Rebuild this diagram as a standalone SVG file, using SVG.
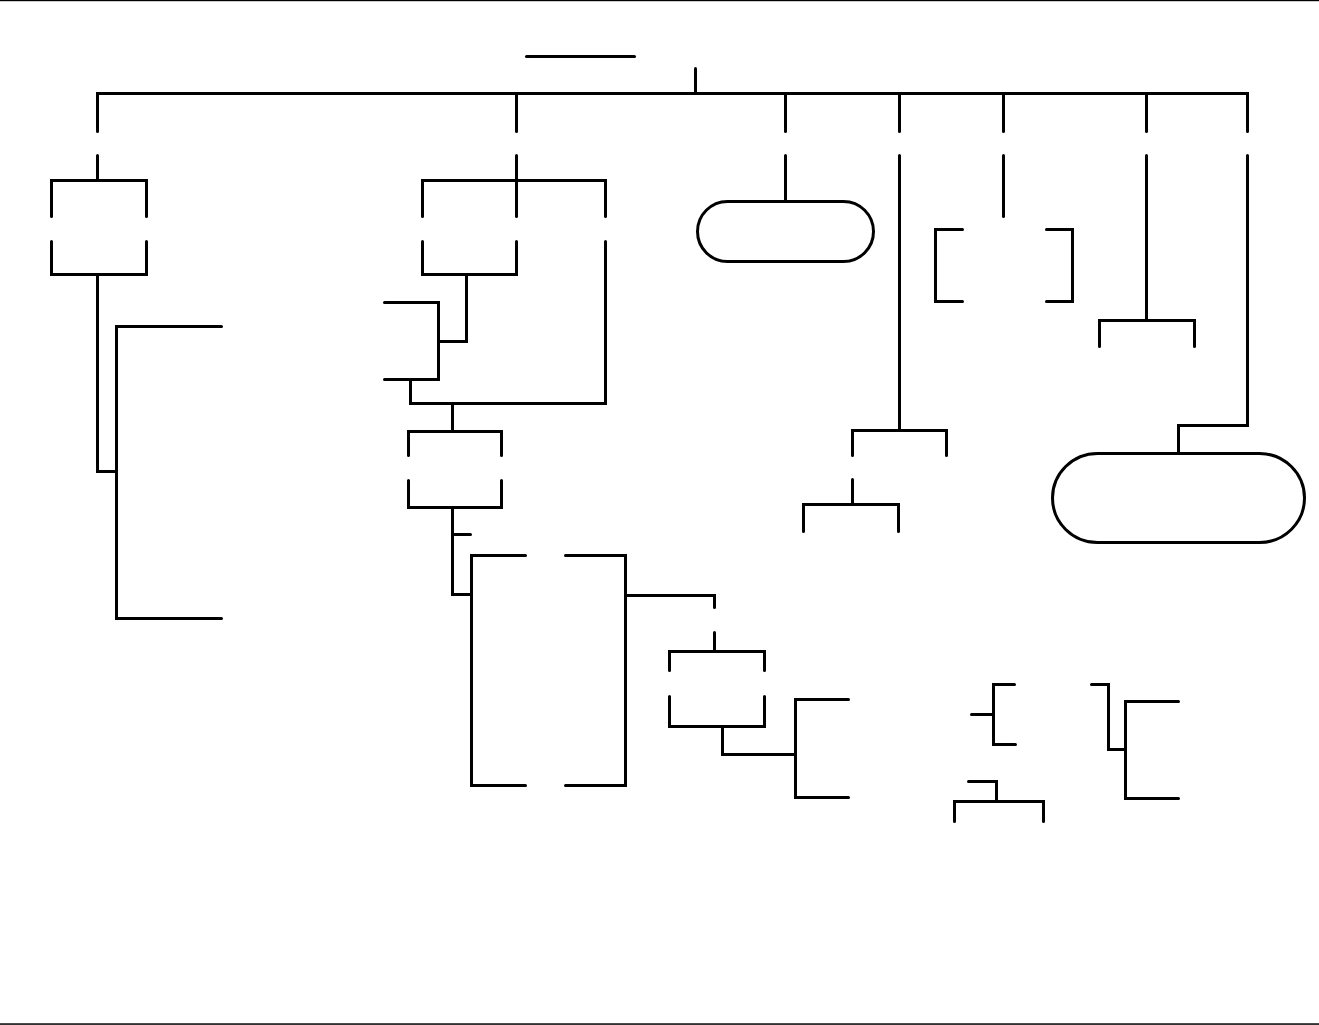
<svg xmlns="http://www.w3.org/2000/svg" width="1319" height="1025" viewBox="0 0 1319 1025">
<style>
.l{fill:none;stroke:#000;stroke-width:3;stroke-linecap:round;stroke-linejoin:miter}
.s{fill:none;stroke:#000;stroke-width:3}
</style>
<rect x="0" y="0" width="1319" height="1025" fill="#fff"/>
<rect x="0" y="0" width="1319" height="1.2" fill="#000"/>
<rect x="0" y="1023.3" width="1319" height="1.5" fill="#000"/>
<g id="title"><path class="l" d="M526.5,56.5 H634.5"/></g>
<g id="node-a" class="l"><path d="M51.5,216.5 V180.5 H146.5 V216.5"/><path d="M51.5,241.5 V274.5 H146.5 V241.5"/></g>
<g id="node-b" class="l"><path d="M422.5,216.5 V180.5 H605.5 V216.5"/><path d="M422.5,241.5 V274.5 H516.5 V241.5"/></g>
<g id="node-c" class="l"><path d="M408.5,455.5 V431.5 H501.5 V455.5"/><path d="M408.5,480.5 V507.5 H501.5 V480.5"/></g>
<g id="node-d" class="l"><path d="M669.5,670.5 V651.5 H764.5 V670.5"/><path d="M669.5,696.5 V726.5 H764.5 V696.5"/></g>
<g id="node-e" class="l"><path d="M525.5,555.5 H471.5 V785.5 H525.5"/><path d="M565.5,555.5 H625.5 V785.5 H565.5"/></g>
<g id="node-f" class="l"><path d="M962.5,229.5 H935.5 V301.5 H962.5"/><path d="M1046.5,229.5 H1072.5 V301.5 H1046.5"/></g>
<g id="node-g"><rect class="s" x="697.5" y="201.5" width="176" height="60" rx="30" ry="30"/></g>
<g id="node-h"><rect class="s" x="1052.5" y="453.5" width="252" height="89" rx="45" ry="44.5"/></g>
<g id="connectors" class="l">
<path d="M695.5,68.5 V93.5"/>
<path d="M97.5,131.5 V93.5 H1247.5 V131.5"/>
<path d="M516.5,93.5 V131.5"/><path d="M785.5,93.5 V131.5"/><path d="M899.5,93.5 V131.5"/><path d="M1003.5,93.5 V131.5"/><path d="M1146.5,93.5 V131.5"/>
<path d="M97.5,155.5 V180.5"/>
<path d="M516.5,155.5 V216.5"/>
<path d="M785.5,155.5 V201.5"/>
<path d="M899.5,155.5 V430.5"/>
<path d="M1003.5,155.5 V216.5"/>
<path d="M1146.5,155.5 V320.5"/>
<path d="M1247.5,155.5 V425.5 H1178.5 V453.5"/>
<path d="M97.5,274.5 V471.5 H116.5"/>
<path d="M221.5,326.5 H116.5 V618.5 H221.5"/>
<path d="M466.5,274.5 V341.5 H438.5"/>
<path d="M384.5,302.5 H438.5 V379.5 H384.5"/>
<path d="M605.5,241.5 V403.5 H410.5 V379.5"/>
<path d="M452.5,403.5 V431.5"/>
<path d="M452.5,507.5 V594.5 H471.5"/>
<path d="M452.5,534.5 H470.5"/>
<path d="M625.5,595.5 H714.5 V607.5"/>
<path d="M714.5,632.5 V651.5"/>
<path d="M722.5,726.5 V754.5 H795.5"/>
<path d="M848.5,699.5 H795.5 V797.5 H848.5"/>
<path d="M852.5,455.5 V430.5 H946.5 V455.5"/>
<path d="M852.5,479.5 V504.5"/>
<path d="M803.5,531.5 V504.5 H898.5 V531.5"/>
<path d="M1099.5,346.5 V320.5 H1194.5 V346.5"/>
<path d="M971.5,714.5 H993.5"/>
<path d="M1014.5,684.5 H993.5 V744.5 H1015.5"/>
<path d="M968.5,781.5 H996.5 V801.5"/>
<path d="M954.5,821.5 V801.5 H1043.5 V821.5"/>
<path d="M1091.5,684.5 H1108.5 V749.5 H1125.5"/>
<path d="M1178.5,701.5 H1125.5 V798.5 H1178.5"/>
</g>
</svg>
